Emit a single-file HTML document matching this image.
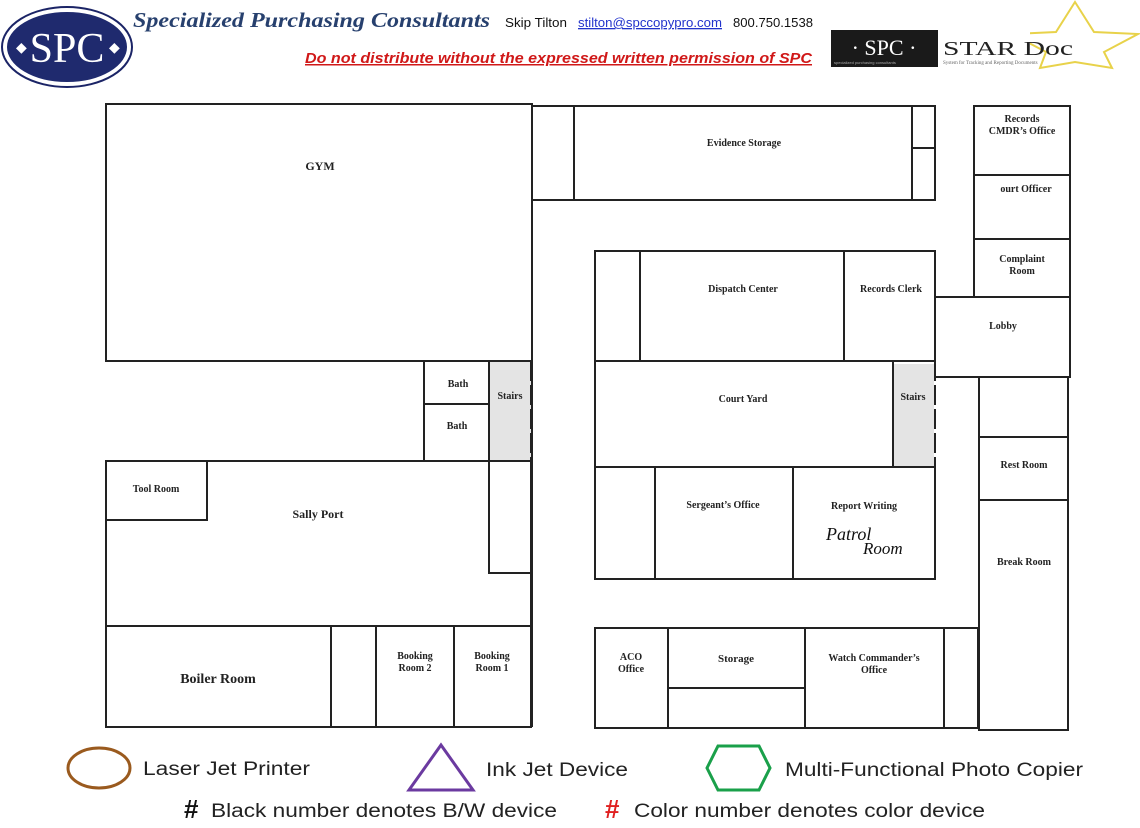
<!DOCTYPE html>
<html><head><meta charset="utf-8"><style>
html,body{margin:0;padding:0;background:#fff;}
svg{display:block}
</style></head><body>
<svg width="1140" height="828" viewBox="0 0 1140 828" xmlns="http://www.w3.org/2000/svg">
<!-- header -->
<ellipse cx="67" cy="47" rx="65" ry="40" fill="#fff" stroke="#1b2466" stroke-width="2"/>
<ellipse cx="67" cy="47" rx="61" ry="36" fill="#1f2a6e" stroke="#fff" stroke-width="2"/>
<text x="67" y="62" text-anchor="middle" font-family="Liberation Serif, serif" font-size="42" fill="#fff">SPC</text>
<text x="16" y="52" font-family="Liberation Serif, serif" font-size="14" fill="#fff">◆</text>
<text x="109" y="52" font-family="Liberation Serif, serif" font-size="14" fill="#fff">◆</text>
<text x="133" y="27" font-family="Liberation Serif, serif" font-size="21" font-style="italic" font-weight="bold" fill="#27406e" textLength="357" lengthAdjust="spacingAndGlyphs">Specialized Purchasing Consultants</text>
<text x="505" y="27" font-family="Liberation Sans, sans-serif" font-size="13" fill="#111" textLength="62" lengthAdjust="spacingAndGlyphs">Skip Tilton</text>
<text x="578" y="27" font-family="Liberation Sans, sans-serif" font-size="13" fill="#2233cc" text-decoration="underline" textLength="144" lengthAdjust="spacingAndGlyphs">stilton@spccopypro.com</text>
<text x="733" y="27" font-family="Liberation Sans, sans-serif" font-size="13" fill="#111" textLength="80" lengthAdjust="spacingAndGlyphs">800.750.1538</text>
<text x="305" y="63" font-family="Liberation Sans, sans-serif" font-size="15" font-style="italic" font-weight="bold" fill="#d01818" text-decoration="underline" textLength="507" lengthAdjust="spacingAndGlyphs">Do not distribute without the expressed written permission of SPC</text>
<polygon points="1075,2 1094,32 1138,34 1104,52 1112,68 1075,62 1040,68 1046,52 1012,34 1056,32" fill="none" stroke="#e8d24a" stroke-width="2"/>
<rect x="831" y="30" width="107" height="37" fill="#1a1a1a"/>
<text x="884" y="55" text-anchor="middle" font-family="Liberation Serif, serif" font-size="22" fill="#fff">· SPC ·</text>
<text x="834" y="64" font-family="Liberation Sans, sans-serif" font-size="4" fill="#aaa">specialized purchasing consultants</text>
<rect x="938" y="30" width="92" height="37" fill="#fff"/>
<text x="943" y="55" font-family="Liberation Serif, serif" font-size="20" fill="#222" textLength="130" lengthAdjust="spacingAndGlyphs">STAR Doc</text>
<text x="943" y="64" font-family="Liberation Serif, serif" font-size="5" fill="#666">System for Tracking and Reporting Documents</text>

<g fill="none" stroke="#222" stroke-width="2">
<rect x="106" y="104" width="426" height="257"/>
<rect x="532" y="106" width="42" height="94"/>
<rect x="574" y="106" width="338" height="94"/>
<rect x="912" y="106" width="23" height="42"/>
<rect x="912" y="148" width="23" height="52"/>
<line x1="532" y1="200" x2="532" y2="727"/>
<rect x="424" y="361" width="65" height="43"/>
<rect x="424" y="404" width="65" height="57"/>
<rect x="489" y="461" width="42" height="112"/>
<rect x="106" y="461" width="425" height="165"/>
<rect x="106" y="461" width="101" height="59"/>
<rect x="106" y="626" width="225" height="101"/>
<rect x="331" y="626" width="45" height="101"/>
<rect x="376" y="626" width="78" height="101"/>
<rect x="454" y="626" width="77" height="101"/>
<rect x="595" y="251" width="340" height="110"/>
<line x1="640" y1="251" x2="640" y2="361"/>
<line x1="844" y1="251" x2="844" y2="361"/>
<rect x="595" y="361" width="298" height="106"/>
<rect x="595" y="467" width="340" height="112"/>
<line x1="655" y1="467" x2="655" y2="579"/>
<line x1="793" y1="467" x2="793" y2="579"/>
<rect x="595" y="628" width="383" height="100"/>
<line x1="668" y1="628" x2="668" y2="728"/>
<line x1="668" y1="688" x2="805" y2="688"/>
<line x1="805" y1="628" x2="805" y2="728"/>
<line x1="944" y1="628" x2="944" y2="728"/>
<rect x="974" y="106" width="96" height="69"/>
<rect x="974" y="175" width="96" height="64"/>
<rect x="974" y="239" width="96" height="58"/>
<rect x="935" y="297" width="135" height="80"/>
<rect x="979" y="377" width="89" height="60"/>
<rect x="979" y="437" width="89" height="63"/>
<rect x="979" y="500" width="89" height="230"/>
</g>
<rect x="490" y="362" width="41" height="98" fill="#e4e4e4" stroke="none"/>
<rect x="894" y="364" width="40" height="102" fill="#e4e4e4" stroke="none"/>
<line x1="893" y1="364" x2="893" y2="467" stroke="#222" stroke-width="2"/>
<line x1="489" y1="361" x2="489" y2="461" stroke="#222" stroke-width="2"/>
<line x1="935" y1="361" x2="935" y2="467" stroke="#222" stroke-width="2" stroke-dasharray="20,4"/>
<line x1="531" y1="361" x2="531" y2="461" stroke="#222" stroke-width="2" stroke-dasharray="20,4"/>

<g font-family="Liberation Serif, serif" font-weight="bold" font-size="10" fill="#222" text-anchor="middle">
<text x="320" y="170" font-size="12">GYM</text>
<text x="744" y="146">Evidence Storage</text>
<text x="1022" y="122">Records</text>
<text x="1022" y="134">CMDR’s Office</text>
<text x="1026" y="192">ourt Officer</text>
<text x="1022" y="262">Complaint</text>
<text x="1022" y="274">Room</text>
<text x="743" y="292">Dispatch Center</text>
<text x="891" y="292">Records Clerk</text>
<text x="1003" y="329">Lobby</text>
<text x="458" y="387">Bath</text>
<text x="457" y="429">Bath</text>
<text x="510" y="399">Stairs</text>
<text x="743" y="402">Court Yard</text>
<text x="913" y="400">Stairs</text>
<text x="1024" y="468">Rest Room</text>
<text x="156" y="492">Tool Room</text>
<text x="318" y="518" font-size="12">Sally Port</text>
<text x="723" y="508">Sergeant’s Office</text>
<text x="864" y="509">Report Writing</text>
<text x="1024" y="565">Break Room</text>
<text x="415" y="659">Booking</text>
<text x="415" y="671">Room 2</text>
<text x="492" y="659">Booking</text>
<text x="492" y="671">Room 1</text>
<text x="631" y="660">ACO</text>
<text x="631" y="672">Office</text>
<text x="736" y="662" font-size="11">Storage</text>
<text x="874" y="661">Watch Commander’s</text>
<text x="874" y="673">Office</text>
<text x="218" y="683" font-size="14">Boiler Room</text>
</g>
<text x="826" y="540" font-family="Liberation Serif, serif" font-style="italic" font-size="18" fill="#111">Patrol</text>
<text x="863" y="554" font-family="Liberation Serif, serif" font-style="italic" font-size="17" fill="#111">Room</text>

<!-- legend -->
<ellipse cx="99" cy="768" rx="31" ry="20" fill="none" stroke="#9a5a1e" stroke-width="3"/>
<text x="143" y="775" font-family="Liberation Sans, sans-serif" font-size="19" fill="#222" textLength="167" lengthAdjust="spacingAndGlyphs">Laser Jet Printer</text>
<polygon points="441,745 473,790 409,790" fill="none" stroke="#6b3aa0" stroke-width="3"/>
<text x="486" y="776" font-family="Liberation Sans, sans-serif" font-size="19" fill="#222" textLength="142" lengthAdjust="spacingAndGlyphs">Ink Jet Device</text>
<polygon points="718,746 759,746 770,768 759,790 718,790 707,768" fill="none" stroke="#1aa04a" stroke-width="3"/>
<text x="785" y="776" font-family="Liberation Sans, sans-serif" font-size="19" fill="#222" textLength="298" lengthAdjust="spacingAndGlyphs">Multi-Functional Photo Copier</text>
<text x="184" y="818" font-family="Liberation Sans, sans-serif" font-size="26" font-weight="bold" fill="#111">#</text>
<text x="211" y="817" font-family="Liberation Sans, sans-serif" font-size="19" fill="#222" textLength="346" lengthAdjust="spacingAndGlyphs">Black number denotes B/W device</text>
<text x="605" y="818" font-family="Liberation Sans, sans-serif" font-size="26" font-weight="bold" fill="#e02020">#</text>
<text x="634" y="817" font-family="Liberation Sans, sans-serif" font-size="19" fill="#222" textLength="351" lengthAdjust="spacingAndGlyphs">Color number denotes color device</text>
</svg>
</body></html>
